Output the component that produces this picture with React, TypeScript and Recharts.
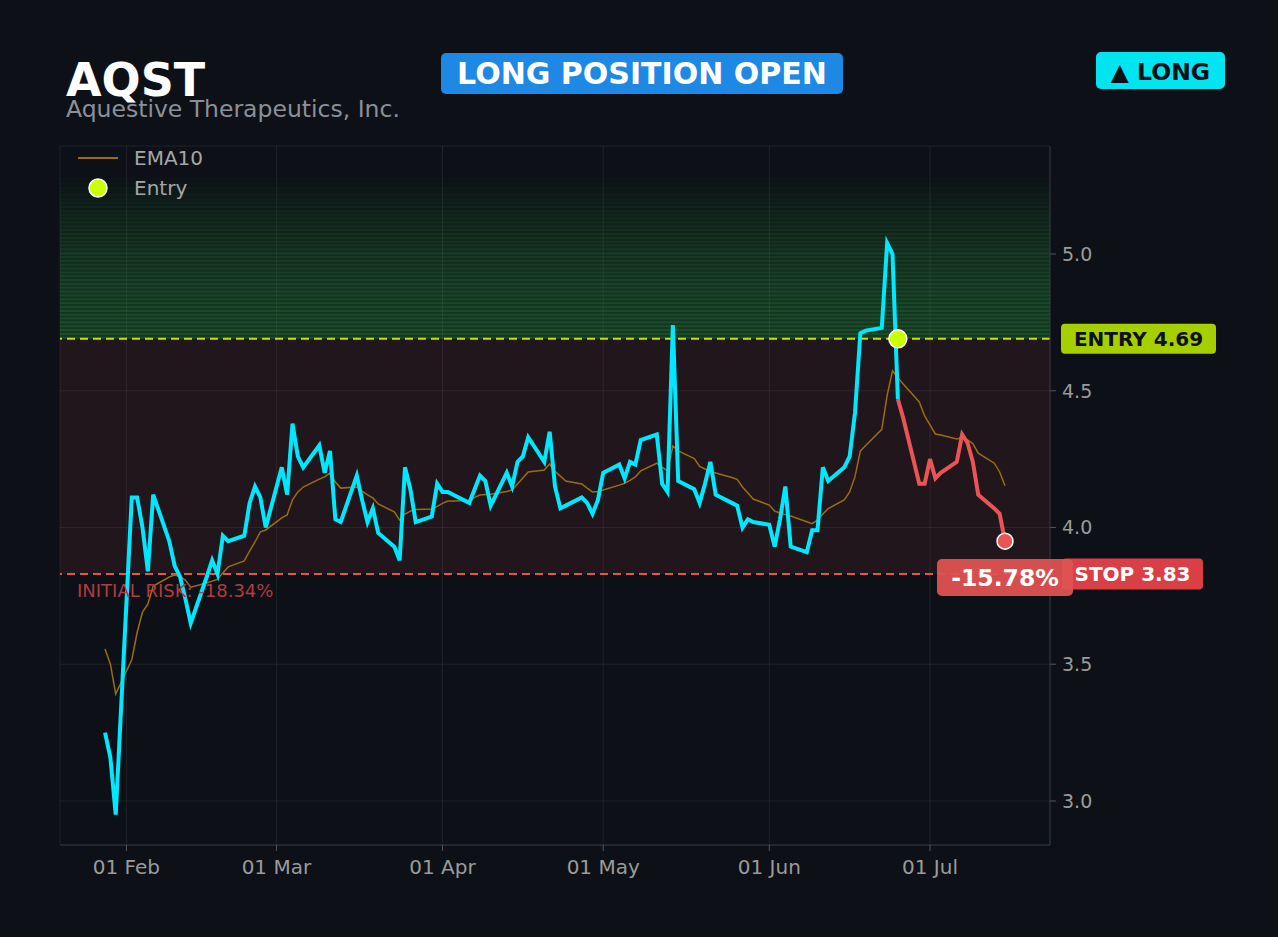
import React from 'react';
import { ComposedChart, Line, XAxis, YAxis, CartesianGrid, ReferenceArea, ReferenceLine, ReferenceDot } from 'recharts';

// trading days shown on the chart
const dates: string[] = [
  '2025-01-29', '2025-01-30', '2025-01-31',
  '2025-02-03', '2025-02-04', '2025-02-05', '2025-02-06', '2025-02-07',
  '2025-02-10', '2025-02-11', '2025-02-12', '2025-02-13', '2025-02-14',
  '2025-02-17', '2025-02-18', '2025-02-19', '2025-02-20', '2025-02-21',
  '2025-02-24', '2025-02-25', '2025-02-26', '2025-02-27', '2025-02-28',
  '2025-03-03', '2025-03-04', '2025-03-05', '2025-03-06', '2025-03-07',
  '2025-03-10', '2025-03-11', '2025-03-12', '2025-03-13', '2025-03-14',
  '2025-03-17', '2025-03-18', '2025-03-19', '2025-03-20', '2025-03-21',
  '2025-03-24', '2025-03-25', '2025-03-26', '2025-03-27', '2025-03-28',
  '2025-03-31', '2025-04-01', '2025-04-02', '2025-04-03', '2025-04-04',
  '2025-04-07', '2025-04-08', '2025-04-09', '2025-04-10', '2025-04-11',
  '2025-04-14', '2025-04-15', '2025-04-16', '2025-04-17', '2025-04-18',
  '2025-04-21', '2025-04-22', '2025-04-23', '2025-04-24', '2025-04-25',
  '2025-04-28', '2025-04-29', '2025-04-30', '2025-05-01', '2025-05-02',
  '2025-05-05', '2025-05-06', '2025-05-07', '2025-05-08', '2025-05-09',
  '2025-05-12', '2025-05-13', '2025-05-14', '2025-05-15', '2025-05-16',
  '2025-05-19', '2025-05-20', '2025-05-21', '2025-05-22', '2025-05-23',
  '2025-05-26', '2025-05-27', '2025-05-28', '2025-05-29', '2025-05-30',
  '2025-06-02', '2025-06-03', '2025-06-04', '2025-06-05', '2025-06-06',
  '2025-06-09', '2025-06-10', '2025-06-11', '2025-06-12', '2025-06-13',
  '2025-06-16', '2025-06-17', '2025-06-18', '2025-06-19', '2025-06-20',
  '2025-06-23', '2025-06-24', '2025-06-25', '2025-06-26', '2025-06-27',
  '2025-06-30', '2025-07-01', '2025-07-02', '2025-07-03', '2025-07-04',
  '2025-07-07', '2025-07-08', '2025-07-09', '2025-07-10', '2025-07-11',
  '2025-07-14', '2025-07-15', '2025-07-16',
];

const closes: number[] = [
  3.25, 3.16, 2.95,
  4.11, 4.11, 4.00, 3.84, 4.12,
  3.95, 3.86, 3.82, 3.74, 3.65,
  3.82, 3.88, 3.83, 3.97, 3.95,
  3.97, 4.09, 4.15, 4.11, 4.00,
  4.22, 4.12, 4.38, 4.26, 4.22,
  4.30, 4.20, 4.28, 4.03, 4.02,
  4.19, 4.10, 4.02, 4.07, 3.98,
  3.93, 3.88, 4.22, 4.14, 4.02,
  4.04, 4.16, 4.13, 4.13, 4.12,
  4.09, 4.14, 4.19, 4.17, 4.08,
  4.20, 4.15, 4.24, 4.26, 4.33,
  4.24, 4.35, 4.15, 4.07, 4.08,
  4.11, 4.09, 4.05, 4.10, 4.20,
  4.23, 4.18, 4.24, 4.23, 4.32,
  4.34, 4.16, 4.13, 4.74, 4.17,
  4.14, 4.09, 4.16, 4.24, 4.12,
  4.09, 4.08, 4.00, 4.03, 4.02,
  4.01, 3.93, 4.03, 4.15, 3.93,
  3.91, 3.99, 3.99, 4.22, 4.17,
  4.22, 4.26, 4.42, 4.71, 4.72,
  4.73, 5.04, 5.00, 4.47, 4.40,
  4.16, 4.16, 4.25, 4.18, 4.20,
  4.24, 4.34, 4.31, 4.24, 4.12,
  4.07, 4.05, 3.95,
];

const ema10: number[] = [
  3.556, 3.501, 3.391,
  3.516, 3.616, 3.691, 3.720, 3.786,
  3.819, 3.826, 3.821, 3.808, 3.782,
  3.797, 3.804, 3.810, 3.834, 3.856,
  3.878, 3.914, 3.947, 3.984, 3.991,
  4.035, 4.046, 4.101, 4.130, 4.148,
  4.177, 4.185, 4.199, 4.166, 4.144,
  4.148, 4.133, 4.119, 4.108, 4.086,
  4.057, 4.027, 4.049, 4.060, 4.066,
  4.068, 4.077, 4.088, 4.097, 4.097,
  4.099, 4.110, 4.119, 4.121, 4.122,
  4.132, 4.137, 4.159, 4.181, 4.203,
  4.210, 4.232, 4.205, 4.188, 4.170,
  4.159, 4.144, 4.130, 4.132, 4.137,
  4.155, 4.162, 4.172, 4.185, 4.207,
  4.235, 4.221, 4.207, 4.298, 4.280,
  4.252, 4.223, 4.214, 4.205, 4.199,
  4.183, 4.176, 4.148, 4.126, 4.104,
  4.082, 4.060, 4.053, 4.047, 4.042,
  4.021, 4.014, 4.027, 4.049, 4.069,
  4.101, 4.130, 4.186, 4.280, 4.300,
  4.359, 4.483, 4.573, 4.548, 4.525,
  4.459, 4.408, 4.375, 4.342, 4.338,
  4.324, 4.329, 4.320, 4.307, 4.272,
  4.235, 4.203, 4.153,
];

const ENTRY = 4.69;
const STOP = 3.83;
const TARGET = 5.28;
const ENTRY_DATE = '2025-06-26';

const tickDates: string[] = ['2025-02-01', '2025-03-01', '2025-04-01', '2025-05-01', '2025-06-01', '2025-07-01'];
const tickLabels: string[] = ['01 Feb', '01 Mar', '01 Apr', '01 May', '01 Jun', '01 Jul'];
const yTicks: number[] = [3.0, 3.5, 4.0, 4.5, 5.0];

// colours
const BG = '#0d1117';
const CYAN = '#00e8ff';
const RED = '#ea5455';
const EMA_C = '#9c6c12';
const LIME = '#ccff00';
const FONT = 'DejaVu Sans';

const toDay = (s: string) => {
  const [y, m, d] = s.split('-').map(Number);
  return Date.UTC(y, m - 1, d) / 86400000;
};

// points sit one day left of their calendar day (timezone shift in the source)
const entryIdx = dates.indexOf(ENTRY_DATE);
const rows = dates.map((d, i) => ({
  x: toDay(d) - 1,
  close: i <= entryIdx ? closes[i] : null,
  trade: i >= entryIdx ? closes[i] : null,
  ema: ema10[i],
}));

const entryRow = rows[entryIdx];
const lastRow = rows[rows.length - 1];
const lastClose = closes[closes.length - 1];
const pnl = ((lastClose - ENTRY) / ENTRY) * 100;
const risk = ((STOP - ENTRY) / ENTRY) * 100;

const span = lastRow.x - rows[0].x;
const xDomain: [number, number] = [rows[0].x - span * 0.05, lastRow.x + span * 0.05];
const yDomain: [number, number] = [2.839, 5.395];
const tickXs = tickDates.map(toDay);

// fading target zone stripes
const STRIPES = 42;
const stripes = Array.from({ length: STRIPES }, (_, k) => {
  const step = (TARGET - ENTRY) / STRIPES;
  const t = k / STRIPES;
  const s = 0.42 * (1 - Math.pow(t, 1.6)) + 0.01;
  const g = s * 0.62;
  return { y1: ENTRY + k * step, y2: ENTRY + (k + 1) * step, y3: ENTRY + (k + 0.55) * step, g, x: (s - g) / (1 - g) };
});

const EntryBadge = (p: any) => (
  <g>
    <rect x={p.cx + 11} y={p.cy - 15} width={155} height={30} rx={4} fill="#a6cf00" />
    <text x={p.cx + 88.5} y={p.cy} dy="0.36em" textAnchor="middle" fontFamily={FONT} fontWeight="bold" fontSize={20} fill="#0d1117">
      {`ENTRY ${ENTRY.toFixed(2)}`}
    </text>
  </g>
);

const StopBadge = (p: any) => (
  <g>
    <rect x={p.cx + 12} y={p.cy - 15.5} width={141} height={31} rx={4} fill="#d93f45" />
    <text x={p.cx + 82.5} y={p.cy} dy="0.36em" textAnchor="middle" fontFamily={FONT} fontWeight="bold" fontSize={20} fill="#ffffff">
      {`STOP ${STOP.toFixed(2)}`}
    </text>
  </g>
);

const RiskText = (p: any) => (
  <text x={p.cx + 17} y={p.cy + 23} fontFamily={FONT} fontSize={18} fill="#b43a3f">
    {`INITIAL RISK: ${risk.toFixed(2)}%`}
  </text>
);

const PnlBadge = (p: any) => (
  <g>
    <rect x={p.cx - 68} y={p.cy - 15} width={136} height={37} rx={5} fill="#e05252" fillOpacity={0.95} />
    <text x={p.cx} y={p.cy + 3.5} dy="0.36em" textAnchor="middle" fontFamily={FONT} fontWeight="bold" fontSize={23.5} fill="#ffffff">
      {`${pnl.toFixed(2)}%`}
    </text>
  </g>
);

const Header = () => (
  <svg width={1278} height={937} style={{ position: 'absolute', left: 0, top: 0, pointerEvents: 'none' }}>
    <text x={66} y={95.5} fontFamily={FONT} fontWeight="bold" fontSize={46} fill="#ffffff">AQST</text>
    <text x={66} y={116.5} fontFamily={FONT} fontSize={23.5} fill="#8b9098">Aquestive Therapeutics, Inc.</text>
    <rect x={441} y={53} width={402} height={41} rx={5} fill="#1e88e5" />
    <text x={642} y={83.5} textAnchor="middle" fontFamily={FONT} fontWeight="bold" fontSize={30} fill="#ffffff">LONG POSITION OPEN</text>
    <rect x={1096} y={52} width={129} height={37} rx={5} fill="#00e5f0" />
    <text x={1160.5} y={79.5} textAnchor="middle" fontFamily={FONT} fontWeight="bold" fontSize={23.5} fill="#0d1117">▲ LONG</text>
    {/* legend */}
    <line x1={78} y1={158} x2={118} y2={158} stroke={EMA_C} strokeWidth={2} />
    <text x={134} y={165} fontFamily={FONT} fontSize={20} fill="#a6a6a6">EMA10</text>
    <circle cx={98} cy={188} r={9} fill={LIME} stroke="#ffffff" strokeWidth={1.5} />
    <text x={134} y={195} fontFamily={FONT} fontSize={20} fill="#a6a6a6">Entry</text>
  </svg>
);

const App: React.FC = () => {
  return (
    <div style={{ position: 'absolute', left: 0, top: 0, width: 1278, height: 937, background: BG, overflow: 'hidden' }}>
      <ComposedChart width={1278} height={937} data={rows}
        margin={{ top: 146, right: 168, bottom: 62, left: 60 }}
        style={{ fontFamily: FONT }}>
        <CartesianGrid stroke="#ffffff" strokeOpacity={0.07} />
        <XAxis type="number" dataKey="x" domain={xDomain} ticks={tickXs} allowDataOverflow
          tickFormatter={(v: number) => tickLabels[tickXs.indexOf(v)] ?? ''}
          height={30} tickSize={6} tickMargin={9}
          axisLine={{ stroke: '#30353c' }} tickLine={{ stroke: '#50555c' }}
          tick={{ fill: '#9b9b9b', fontSize: 20, fontFamily: FONT }} />
        <YAxis orientation="right" type="number" domain={yDomain} ticks={yTicks} allowDataOverflow
          tickFormatter={(v: number) => v.toFixed(1)}
          width={60} tickSize={6} tickMargin={6}
          axisLine={{ stroke: '#30353c' }} tickLine={{ stroke: '#50555c' }}
          tick={{ fill: '#9b9b9b', fontSize: 19, fontFamily: FONT }} />

        {/* risk zone */}
        <ReferenceArea y1={STOP} y2={ENTRY} fill="#e5534b" fillOpacity={0.09} stroke="none" />
        {/* target zone */}
        {stripes.map((s, k) => (
          <ReferenceArea key={`b${k}`} y1={s.y1} y2={s.y2} fill="#2ea043" fillOpacity={s.g} stroke="none" />
        ))}
        {stripes.map((s, k) => (
          <ReferenceArea key={`s${k}`} y1={s.y1} y2={s.y3} fill="#2ea043" fillOpacity={s.x} stroke="none" />
        ))}

        <ReferenceLine y={ENTRY} stroke="#c8e000" strokeWidth={2} strokeDasharray="8 5" />
        <ReferenceLine y={STOP} stroke="#e5534b" strokeWidth={2} strokeDasharray="8 5" />

        <Line type="linear" dataKey="ema" stroke={EMA_C} strokeWidth={1.5} dot={false} isAnimationActive={false} />
        <Line type="linear" dataKey="close" stroke={CYAN} strokeWidth={4} dot={false} isAnimationActive={false} />
        <Line type="linear" dataKey="trade" stroke={RED} strokeWidth={4} dot={false} isAnimationActive={false} />

        <ReferenceDot x={entryRow.x} y={ENTRY} r={9} fill={LIME} stroke="#ffffff" strokeWidth={1.5} />
        <ReferenceDot x={lastRow.x} y={lastClose} r={8} fill={RED} stroke="#ffffff" strokeWidth={1.5} />

        <ReferenceDot x={xDomain[0]} y={STOP} ifOverflow="visible" shape={RiskText} />
        <ReferenceDot x={xDomain[1]} y={ENTRY} ifOverflow="visible" shape={EntryBadge} />
        <ReferenceDot x={xDomain[1]} y={STOP} ifOverflow="visible" shape={StopBadge} />
        <ReferenceDot x={lastRow.x} y={STOP} ifOverflow="visible" shape={PnlBadge} />
      </ComposedChart>
      <Header />
    </div>
  );
};

export default App;
